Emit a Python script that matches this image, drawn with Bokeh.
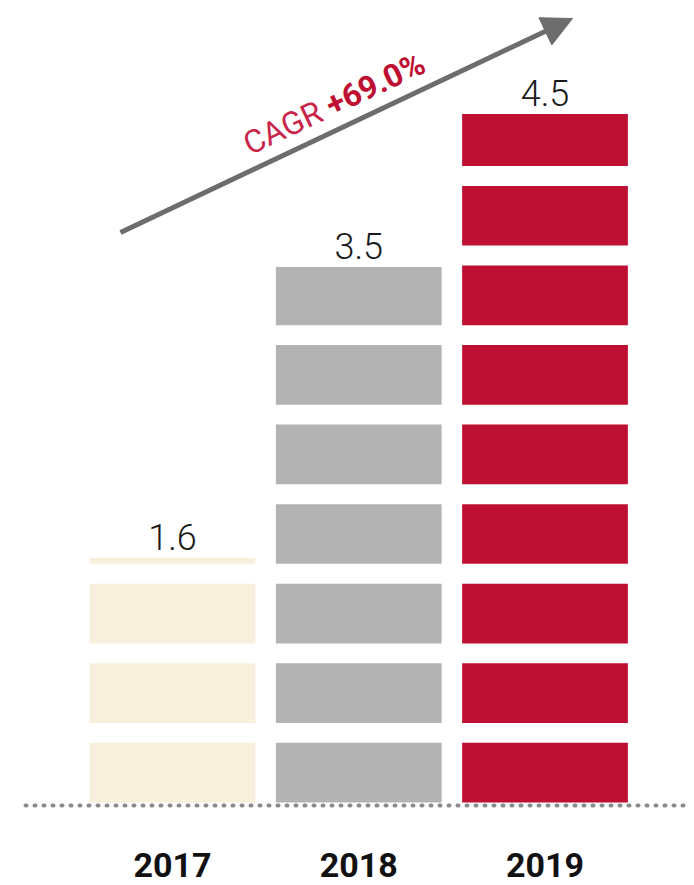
import math
from bokeh.plotting import figure
from bokeh.models import ColumnDataSource, Arrow, NormalHead, Range1d
from bokeh.core.properties import value
from bokeh.embed import file_html
from bokeh.resources import INLINE

# ---- data ----
years = ["2017", "2018", "2019"]
values = [1.6, 3.5, 4.5]
value_labels = ["1.6", "3.5", "4.5"]
colors = ["#F8EFDC", "#B3B3B3", "#BE1032"]
cagr_label = "CAGR"
cagr_value = "+69.0%"

# ---- layout constants ----
BLOCK_PERIOD = 0.52   # block + gap, in value units
BLOCK_SIZE = 0.39     # filled part of each block
W, H = 694, 885
X0_PX, X_SCALE = 172.0, 186.25   # screen px of x=0, px per unit
Y0_PX, Y_SCALE = 802.0, 153.0    # screen px of y=0, px per unit
BASE_SHIFT = 0.38                # rendered baseline sits this many em below anchor


def to_data(px, py):
    return ((px - X0_PX) / X_SCALE, (Y0_PX - py) / Y_SCALE)


p = figure(width=W, height=H, output_backend="svg", toolbar_location=None,
           x_range=Range1d(-X0_PX / X_SCALE, (W - X0_PX) / X_SCALE),
           y_range=Range1d(-(H - Y0_PX) / Y_SCALE, Y0_PX / Y_SCALE),
           min_border=0)
p.axis.visible = False
p.grid.visible = False
p.outline_line_color = None
p.background_fill_color = "white"
p.border_fill_color = "white"

# ---- blocks built from values ----
bx, bb, bt, bc = [], [], [], []
for i, (v, c) in enumerate(zip(values, colors)):
    k = 0
    while k * BLOCK_PERIOD < v - 1e-9:
        bx.append(i)
        bb.append(k * BLOCK_PERIOD)
        bt.append(min(k * BLOCK_PERIOD + BLOCK_SIZE, v))
        bc.append(c)
        k += 1
src = ColumnDataSource(dict(x=bx, bottom=bb, top=bt, color=bc))
p.vbar(x="x", bottom="bottom", top="top", width=0.89, fill_color="color",
       line_color=None, source=src)

# ---- dotted baseline ----
lx0, ly = to_data(25, 805)
lx1, _ = to_data(685, 805)
p.line([lx0, lx1], [ly, ly], line_color="#8a8a8a", line_width=4,
       line_dash="1 8", line_cap="round")

# ---- value labels ----
idx = list(range(len(years)))
vfs = 36
p.text(x=idx, y=values, text=value_labels, y_offset=-(7 + BASE_SHIFT * vfs),
       text_font=value("Roboto Light"), text_font_size=f"{vfs}px",
       text_align="center", text_baseline="alphabetic", text_color="#1a1a1a")

# ---- year labels ----
yfs = 34
_, yb = to_data(0, 877 - BASE_SHIFT * yfs)
p.text(x=idx, y=[yb] * len(idx), text=years,
       text_font=value("Roboto"), text_font_style="bold",
       text_font_size=f"{yfs}px", text_align="center", text_baseline="alphabetic",
       text_color="#111111")

# ---- CAGR arrow ----
ax0, ay0, ax1, ay1 = 120.0, 232.0, 572.0, 18.0
xs, ys = to_data(ax0, ay0)
xe, ye = to_data(ax1, ay1)
arrow_color = "#6d6d6d"
p.add_layout(Arrow(end=NormalHead(size=30, fill_color=arrow_color,
                                  line_color=arrow_color),
                   x_start=xs, y_start=ys, x_end=xe, y_end=ye,
                   line_color=arrow_color, line_width=5))

cfs = 32
theta = math.atan2(ay0 - ay1, ax1 - ax0)
ux, uy = math.cos(theta), -math.sin(theta)
nx, ny = -math.sin(theta), -math.cos(theta)
along, perp = 150.0, 13.0 + BASE_SHIFT * cfs
t1 = to_data(ax0 + along * ux + perp * nx, ay0 + along * uy + perp * ny)
along2 = along + 91.0
t2 = to_data(ax0 + along2 * ux + perp * nx, ay0 + along2 * uy + perp * ny)

p.text(x=[t1[0]], y=[t1[1]], text=[cagr_label], angle=theta, angle_units="rad",
       text_font=value("Roboto"), text_font_size=f"{cfs}px",
       text_align="left", text_baseline="alphabetic", text_color="#C8254A")
p.text(x=[t2[0]], y=[t2[1]], text=[cagr_value], angle=theta, angle_units="rad",
       text_font=value("Roboto"), text_font_style="bold",
       text_font_size=f"{cfs}px", text_align="left", text_baseline="alphabetic",
       text_color="#BE1032")

open("out.html", "w").write(file_html(p, INLINE))
